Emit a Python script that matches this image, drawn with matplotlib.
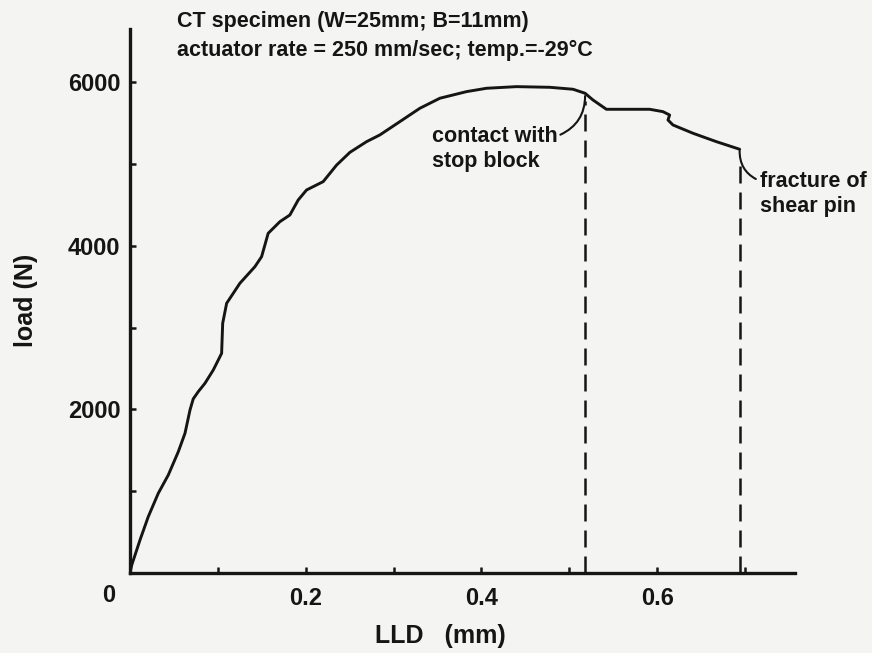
import matplotlib
matplotlib.use("Agg")
import matplotlib.pyplot as plt
import matplotlib.transforms as mtransforms

# ---- data ----
lld_mm = [0, 0.002, 0.0114, 0.0208, 0.0322, 0.0436, 0.055, 0.0626, 0.0683, 0.072,
          0.0777, 0.0853, 0.0948, 0.1043, 0.1055, 0.110, 0.1251, 0.1422, 0.1498,
          0.1573, 0.1706, 0.182, 0.1915, 0.201, 0.2199, 0.2352, 0.2503, 0.2693,
          0.2844, 0.3072, 0.3299, 0.3527, 0.3831, 0.4058, 0.4399, 0.4778, 0.5043,
          0.518, 0.527, 0.5423, 0.565, 0.5916, 0.6067, 0.6143, 0.6124, 0.6181,
          0.6408, 0.6675, 0.694]
load_N = [0, 98, 404, 689, 975, 1199, 1484, 1709, 1994, 2130,
          2218, 2320, 2483, 2687, 3054, 3299, 3544, 3747, 3869,
          4155, 4297, 4379, 4563, 4685, 4787, 4990, 5145, 5276,
          5358, 5521, 5684, 5807, 5888, 5929, 5949, 5941, 5917,
          5868, 5786, 5672, 5672, 5672, 5643, 5602, 5541, 5480,
          5379, 5276, 5183]

stop_block_lld = 0.518
fracture_lld = 0.694
stop_block_load = 5868
fracture_load = 5183

x_ticks = [0, 0.1, 0.2, 0.3, 0.4, 0.5, 0.6, 0.7]
x_tick_labels = ['', '', '0.2', '', '0.4', '', '0.6', '']
y_ticks = [0, 1000, 2000, 3000, 4000, 5000, 6000]
y_tick_labels = ['', '', '2000', '', '4000', '', '6000']

title_lines = ["CT specimen (W=25mm; B=11mm)",
               "actuator rate = 250 mm/sec; temp.=-29\u00b0C"]
x_label = "LLD   (mm)"
y_label = "load (N)"
note_stop = "contact with\nstop block"
note_fracture = "fracture of\nshear pin"

# ---- style ----
plt.rcParams['font.family'] = ['Liberation Sans', 'DejaVu Sans']
plt.rcParams['font.weight'] = 'bold'
ink = '#151515'
bg = '#f4f4f2'
fs_tick = 17
fs_title = 15.5
fs_note = 15.5
fs_label = 18

W, H = 872, 653
fig = plt.figure(figsize=(W / 100, H / 100), dpi=100, facecolor=bg)
ax = fig.add_axes([130 / W, 1 - 573 / H, (795 - 130) / W, (573 - 29) / H])
ax.set_facecolor(bg)

ax.plot(lld_mm, load_N, color=ink, lw=2.1, solid_capstyle='round', solid_joinstyle='round')

for xv, yv in [(stop_block_lld, stop_block_load), (fracture_lld, fracture_load)]:
    ax.vlines(xv, 0, yv - 90, colors=ink, lw=1.8, linestyles=(0, (6.8, 3.6)))

ax.set_xlim(0, 0.757)
ax.set_ylim(0, 6654)

for s in ['top', 'right']:
    ax.spines[s].set_visible(False)
for s in ['left', 'bottom']:
    ax.spines[s].set_linewidth(2.4)
    ax.spines[s].set_color(ink)

ax.set_xticks(x_ticks)
ax.set_xticklabels(x_tick_labels)
ax.set_yticks(y_ticks)
ax.set_yticklabels(y_tick_labels)
ax.tick_params(axis='both', direction='in', length=4, width=1.8, color=ink,
               labelsize=fs_tick, labelcolor=ink)
ax.tick_params(axis='x', pad=10)
ax.tick_params(axis='y', pad=7)
for lab in ax.get_xticklabels() + ax.get_yticklabels():
    lab.set_fontweight('bold')

# shared origin label
off = mtransforms.offset_copy(ax.transData, fig=fig, x=-21, y=-23, units='dots')
ax.text(0, 0, '0', transform=off, ha='center', va='center', fontsize=fs_tick,
        fontweight='bold', color=ink)

ax.set_xlabel(x_label, fontsize=fs_label, fontweight='bold', color=ink)
ax.xaxis.set_label_coords((440 - 130) / (795 - 130), -(636 - 573) / (573 - 29))
ax.xaxis.label.set_va('center')
ax.set_ylabel(y_label, fontsize=fs_label, fontweight='bold', color=ink)
ax.yaxis.set_label_coords(-(130 - 26) / (795 - 130), (573 - 300) / (573 - 29))
ax.yaxis.label.set_va('center')

# title block
fig.text(177 / W, 1 - 22 / H, title_lines[0], fontsize=fs_title, fontweight='bold',
         color=ink, ha='left', va='center')
fig.text(177 / W, 1 - 50 / H, title_lines[1], fontsize=fs_title, fontweight='bold',
         color=ink, ha='left', va='center')

# annotations with leader lines
ax.annotate(note_stop, xy=(stop_block_lld, stop_block_load), xytext=(0.3436, 5470),
            fontsize=fs_note, fontweight='bold', color=ink, ha='left', va='top',
            linespacing=1.25,
            arrowprops=dict(arrowstyle='-', color=ink, lw=1.5, relpos=(1.0, 0.78),
                            shrinkA=0, shrinkB=2,
                            connectionstyle='arc3,rad=0.35'))
ax.annotate(note_fracture, xy=(fracture_lld, fracture_load), xytext=(0.717, 4920),
            fontsize=fs_note, fontweight='bold', color=ink, ha='left', va='top',
            linespacing=1.25, annotation_clip=False,
            arrowprops=dict(arrowstyle='-', color=ink, lw=1.5, relpos=(0.0, 0.78),
                            shrinkA=1, shrinkB=1,
                            connectionstyle='arc3,rad=-0.35'))

fig.savefig('out.png', dpi=100, facecolor=bg)
